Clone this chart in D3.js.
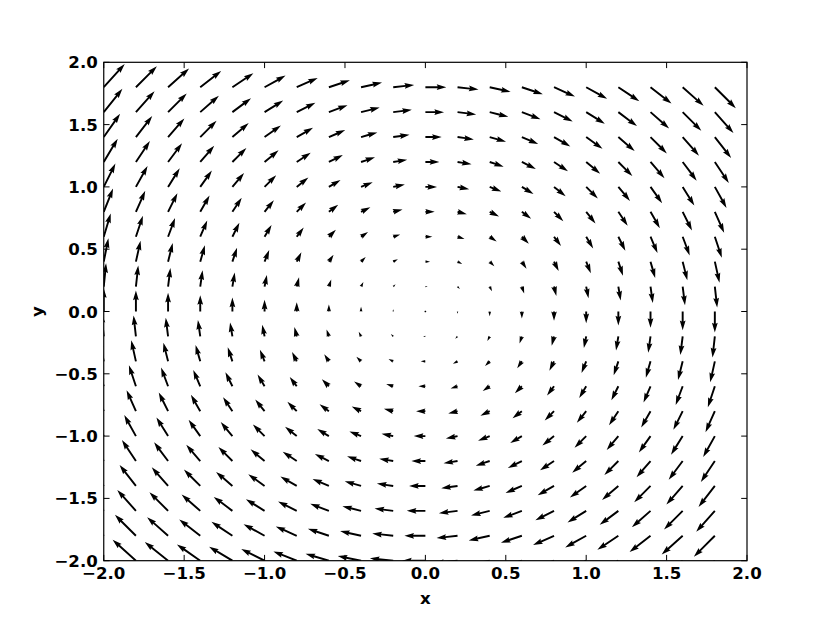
<!DOCTYPE html>
<html><head><meta charset="utf-8">
<script src="https://cdn.jsdelivr.net/npm/d3@7"></script>
<style>
html,body{margin:0;padding:0;background:#fff;}
text{font-family:"DejaVu Sans",sans-serif;font-weight:bold;}
</style></head>
<body><svg id="c" width="830" height="623"></svg>
<script>
// Grid positions (arrow tails)
const gridX = [-2.0,-1.8,-1.6,-1.4,-1.2,-1.0,-0.8,-0.6,-0.4,-0.2,0.0,0.2,0.4,0.6,0.8,1.0,1.2,1.4,1.6,1.8];
const gridY = [-2.0,-1.8,-1.6,-1.4,-1.2,-1.0,-0.8,-0.6,-0.4,-0.2,0.0,0.2,0.4,0.6,0.8,1.0,1.2,1.4,1.6,1.8];
// U component per row (depends on y only), V component per column (depends on x only)
const uByRow = [-2.0,-1.8,-1.6,-1.4,-1.2,-1.0,-0.8,-0.6,-0.4,-0.2,0.0,0.2,0.4,0.6,0.8,1.0,1.2,1.4,1.6,1.8];
const vByCol = [2.0,1.8,1.6,1.4,1.2,1.0,0.8,0.6,0.4,0.2,0.0,-0.2,-0.4,-0.6,-0.8,-1.0,-1.2,-1.4,-1.6,-1.8];
const tickVals = [-2.0,-1.5,-1.0,-0.5,0.0,0.5,1.0,1.5,2.0];
const tickLabels = ["\u22122.0","\u22121.5","\u22121.0","\u22120.5","0.0","0.5","1.0","1.5","2.0"];

const W=830,H=623;
const m={l:103.75,r:747,t:62.3,b:560.7};
const svg=d3.select("#c");
const x=d3.scaleLinear().domain([-2,2]).range([m.l,m.r]);
const y=d3.scaleLinear().domain([-2,2]).range([m.b,m.t]);

svg.append("defs").append("clipPath").attr("id","clip")
  .append("rect").attr("x",m.l).attr("y",m.t).attr("width",m.r-m.l).attr("height",m.b-m.t);

// build vectors
const vecs=[];
gridY.forEach((gy,i)=>gridX.forEach((gx,j)=>{
  vecs.push({x:gx,y:gy,u:uByRow[i],v:vByCol[j]});
}));
const mags=vecs.map(d=>Math.hypot(d.u,d.v));
const amean=d3.mean(mags);
const axW=m.r-m.l;
const sn=Math.max(8,Math.min(25,Math.sqrt(vecs.length)));
const wPx=0.06*axW/sn; // shaft width in px
const scale=1.8*amean*Math.max(10,Math.sqrt(vecs.length)); // per axes width
// length in width-units
const headwidth=3, headlength=5, headaxislength=4.5, minshaft=1, minlength=1;

function arrowPts(d){
  const a=Math.hypot(d.u,d.v);
  let L=a/(scale*(0.06/sn)); // in width units
  const minsh=minshaft*headlength;
  let X,Y;
  const ii=[0,1,2,3,2,1,0,0];
  if(L<minlength){
    X=[];Y=[];
    for(let k=0;k<8;k++){const th=k*Math.PI/3;X.push(Math.cos(th)*minlength*0.5);Y.push(Math.sin(th)*minlength*0.5);}
  } else if(L<minsh){
    const x0=[0,minsh-headaxislength,minsh-headlength,minsh];
    const y0=[0.5,0.5,0.5*headwidth,0];
    const s=L/minsh;
    X=ii.map(k=>x0[k]*s);Y=ii.map((k,n)=>(n>=3&&n<7?-1:1)*y0[k]*s);
  } else {
    const xx=[0,L-headaxislength,L-headlength,L];
    const yy=[0.5,0.5,0.5*headwidth,0];
    X=ii.map(k=>xx[k]);Y=ii.map((k,n)=>(n>=3&&n<7?-1:1)*yy[k]);
  }
  const ang=Math.atan2(d.v,d.u);
  const c=Math.cos(ang),s=Math.sin(ang);
  const px=x(d.x),py=y(d.y);
  return X.map((xv,k)=>{
    const rx=(xv*c-Y[k]*s)*wPx, ry=(xv*s+Y[k]*c)*wPx;
    return [px+rx,py-ry];
  });
}

svg.append("g").attr("clip-path","url(#clip)")
  .selectAll("path").data(vecs).join("path")
  .attr("d",d=>"M"+arrowPts(d).map(p=>p[0].toFixed(2)+","+p[1].toFixed(2)).join("L")+"Z")
  .attr("fill","#000").attr("stroke","none");

// frame
svg.append("rect").attr("x",m.l).attr("y",m.t).attr("width",m.r-m.l).attr("height",m.b-m.t)
  .attr("fill","none").attr("stroke","#000").attr("stroke-width",1.2);

const tl=5.8, fs=16.6;
const tg=svg.append("g");
tickVals.forEach((v,i)=>{
  const px=x(v),py=y(v);
  tg.append("line").attr("x1",px).attr("x2",px).attr("y1",m.b).attr("y2",m.b-tl).attr("stroke","#000").attr("stroke-width",1);
  tg.append("line").attr("x1",px).attr("x2",px).attr("y1",m.t).attr("y2",m.t+tl).attr("stroke","#000").attr("stroke-width",1);
  tg.append("line").attr("y1",py).attr("y2",py).attr("x1",m.l).attr("x2",m.l+tl).attr("stroke","#000").attr("stroke-width",1);
  tg.append("line").attr("y1",py).attr("y2",py).attr("x1",m.r).attr("x2",m.r-tl).attr("stroke","#000").attr("stroke-width",1);
  tg.append("text").attr("x",px).attr("y",m.b+18.5).attr("text-anchor","middle").attr("font-size",fs).text(tickLabels[i]);
  tg.append("text").attr("x",m.l-6).attr("y",py+6).attr("text-anchor","end").attr("font-size",fs).text(tickLabels[i]);
});
svg.append("text").attr("x",(m.l+m.r)/2).attr("y",604).attr("text-anchor","middle").attr("font-size",fs).text("x");
svg.append("text").attr("transform",`translate(43,${(m.t+m.b)/2}) rotate(-90)`).attr("text-anchor","middle").attr("font-size",fs).text("y");
</script></body></html>
